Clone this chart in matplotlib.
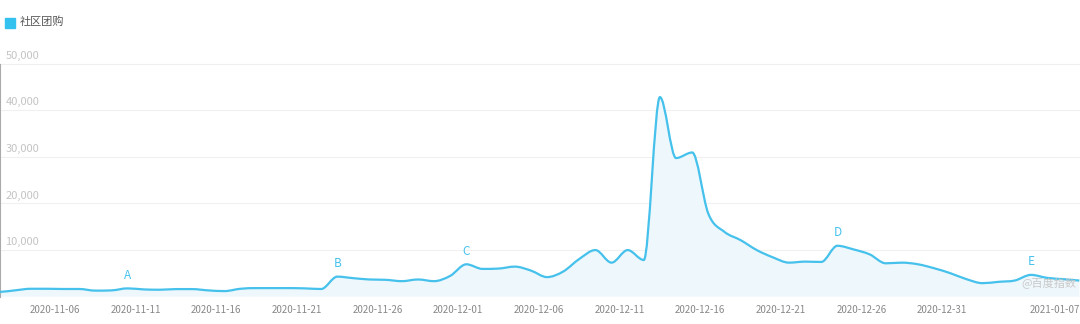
import matplotlib.pyplot as plt
import numpy as np
import pandas as pd
from matplotlib.path import Path
from matplotlib.patches import PathPatch, Rectangle

plt.rcParams['font.family'] = ['Noto Sans CJK SC', 'DejaVu Sans']

# daily index values, 2020-11-02 .. 2021-01-08
dates = pd.date_range('2020-11-02', '2021-01-08', freq='D')
values = [1000, 1350, 1700, 1700, 1650, 1650, 1300, 1350, 1780, 1560,
          1490, 1630, 1630, 1350, 1200, 1700, 1840, 1840, 1840, 1780,
          1650, 4300, 3970, 3690, 3620, 3330, 3690, 3330, 4470, 6950,
          5960, 6030, 6450, 5600, 4200, 5390, 8090, 10000, 7300, 10000,
          7870, 42800, 29730, 30930, 17800, 13900, 12130, 10000, 8440, 7300,
          7520, 7450, 10920, 10140, 9080, 7160, 7300, 6950, 6100, 5040,
          3760, 2900, 3190, 3470, 4680, 4040, 3760, 3470]
series_name = '社区团购'
marks = {'A': '2020-11-10', 'B': '2020-11-23', 'C': '2020-12-01',
         'D': '2020-12-24', 'E': '2021-01-05'}
tick_dates = ['2020-11-06', '2020-11-11', '2020-11-16', '2020-11-21',
              '2020-11-26', '2020-12-01', '2020-12-06', '2020-12-11',
              '2020-12-16', '2020-12-21', '2020-12-26', '2020-12-31',
              '2021-01-07']
yticks = [10000, 20000, 30000, 40000, 50000]

line_c = '#45c1ec'
fill_c = '#eef7fc'

fig = plt.figure(figsize=(10.8, 3.24), dpi=100)
ax = fig.add_axes([0.0, 0.0843, 1.0, 0.7296])

x = np.arange(len(values), dtype=float)
y = np.array(values, dtype=float)
n = len(x)

# per-point tangent offsets, shrunk so the curve does not overshoot
dy = np.zeros(n)
for i in range(n):
    a = y[i - 1] if i > 0 else y[i]
    b = y[i + 1] if i < n - 1 else y[i]
    d = (b - a) / 6
    if d != 0:
        lim_r = (b - y[i]) / d if i < n - 1 else 1
        lim_l = (y[i] - a) / d if i > 0 else 1
        d *= max(0.0, min(1.0, lim_r, lim_l))
    dy[i] = d

verts = [(x[0], y[0])]
codes = [Path.MOVETO]
for i in range(n - 1):
    verts += [(x[i] + 1 / 3, y[i] + dy[i]), (x[i + 1] - 1 / 3, y[i + 1] - dy[i + 1]),
              (x[i + 1], y[i + 1])]
    codes += [Path.CURVE4] * 3

fill_verts = verts + [(x[-1], 0), (x[0], 0), (x[0], y[0])]
fill_codes = codes + [Path.LINETO, Path.LINETO, Path.CLOSEPOLY]
ax.add_patch(PathPatch(Path(fill_verts, fill_codes), facecolor=fill_c,
                       edgecolor='none', zorder=1))
ax.add_patch(PathPatch(Path(verts, codes), facecolor='none',
                       edgecolor=line_c, lw=1.6, zorder=3))

for lab, d in marks.items():
    i = dates.get_loc(pd.Timestamp(d))
    ax.annotate(lab, (x[i], y[i]), xytext=(0, 9.5), textcoords='offset points',
                ha='center', va='center', color=line_c, fontsize=8.5)

ax.set_xlim(0.09, 67.04)
ax.set_ylim(0, 50700)

for v in yticks:
    ax.axhline(v, color='#f0f0f0', lw=0.8, zorder=0)
    ax.annotate(f'{v:,}', (0, v), xytext=(4, 2), textcoords='offset points',
                xycoords=('axes fraction', 'data'), ha='left', va='bottom',
                color='#c4c4c4', fontsize=8)

tick_pos = [dates.get_loc(pd.Timestamp(t)) - 0.5 for t in tick_dates]
ax.set_xticks(tick_pos)
ax.set_xticklabels(tick_dates, fontsize=7, color='#888888')
ax.tick_params(axis='x', length=0, pad=6)
ax.set_yticks([])
for s in ['top', 'right', 'bottom']:
    ax.spines[s].set_visible(False)
ax.spines['left'].set_color('#aaaaaa')
ax.spines['left'].set_bounds(0, 50000)

ax.text(0.997, 0.055, '@百度指数', transform=ax.transAxes, ha='right',
        va='center', fontsize=8, color='#c8c8c8')

fig.add_artist(Rectangle((5 / 1080, 1 - 28 / 324), 10 / 1080, 10 / 324,
                         transform=fig.transFigure, color='#33c1f0'))
fig.text(20 / 1080, 1 - 22 / 324, series_name, fontsize=8, color='#555555',
         va='center', ha='left')

fig.savefig('out.png', dpi=100)
